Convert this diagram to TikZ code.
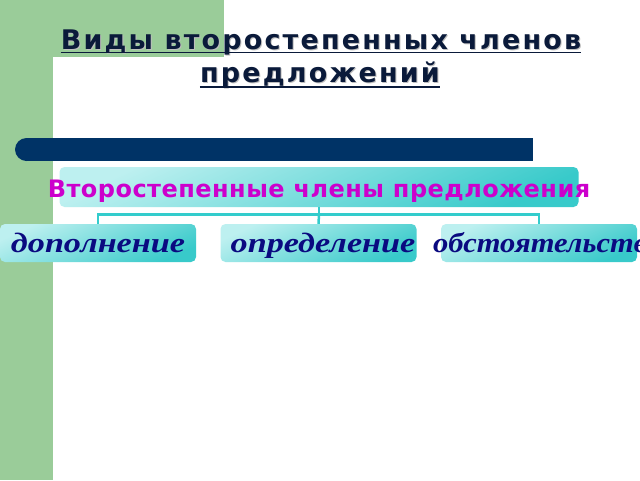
\documentclass[tikz,border=0pt]{standalone}
\usepackage{fontspec}
\setmainfont{Liberation Serif}
\newfontfamily\titlefont[LetterSpace=8]{DejaVu Sans}
\newfontfamily\subfont[LetterSpace=2]{DejaVu Sans}
\definecolor{greenbg}{HTML}{9ACC99}
\definecolor{barblue}{HTML}{003366}
\definecolor{titlenavy}{HTML}{0A1A3A}
\definecolor{boxlight}{HTML}{BDF0F0}
\definecolor{boxdark}{HTML}{38CACA}
\definecolor{connc}{HTML}{33CCCC}
\definecolor{magtext}{HTML}{CC00CC}
\definecolor{childtext}{HTML}{0A0A80}
\tikzset{
  titletext/.style={inner sep=0pt, anchor=base, font=\titlefont\bfseries\fontsize{27}{30}\selectfont, text=titlenavy},
  titleshadow/.style={inner sep=0pt, anchor=base, font=\titlefont\bfseries\fontsize{27}{30}\selectfont, text=black!25},
  gradbox/.style={rounded corners=5pt, top color=boxlight, bottom color=boxdark, shading angle=25, draw=none, inner sep=0pt},
  childbox/.style={gradbox, minimum width=196pt, minimum height=38pt},
  childlabel/.style={inner sep=0pt, anchor=base, font=\bfseries\itshape\fontsize{28}{32}\selectfont, text=childtext},
  conn/.style={draw=connc, line width=2.5pt}
}
\begin{document}
\begin{tikzpicture}[x=1pt,y=-1pt]
\useasboundingbox (0,0) rectangle (640,480);
% background
\fill[white] (0,0) rectangle (640,480);
\fill[greenbg] (0,0) rectangle (224,57);
\fill[greenbg] (0,0) rectangle (53,480);
\fill[white] (53,480) -- (53,74) arc[start angle=180, end angle=90, radius=17pt] -- (224,57) -- (224,480) -- cycle;
% title
\node[titleshadow] (t1s) at (322,50.5) {Виды второстепенных членов};
\node[titleshadow] (t2s) at (321,83) {предложений};
\node[titletext] (t1) at (321,49.5) {Виды второстепенных членов};
\node[titletext] (t2) at (320,82) {предложений};
\draw[titlenavy, line width=1.8pt] ([yshift=-3pt]t1.base west) -- ([yshift=-3pt]t1.base east);
\draw[titlenavy, line width=1.8pt] ([yshift=-5pt]t2.base west) -- ([yshift=-5pt]t2.base east);
% bar
\fill[barblue] (26.5,138) rectangle (533,161);
\fill[barblue] (26.5,149.5) circle (11.5pt);
% top box
\node[gradbox, minimum width=519pt, minimum height=40pt] (topbox) at (319,187) {};
\node[inner sep=0pt, anchor=base, font=\subfont\bfseries\fontsize{24}{28}\selectfont, text=magtext] (toplabel) at (319,197.5) {Второстепенные члены предложения};
% children
\node[childbox] (c1box) at (98,243) {};
\node[childbox] (c2box) at (318.5,243) {};
\node[childbox] (c3box) at (539,243) {};
\node[childlabel] (c1) at (98,252.5) {\scalebox{1.22}[1]{дополнение}};
\node[childlabel] (c2) at (323,252.5) {\scalebox{1.22}[1]{определение}};
\node[childlabel, anchor=base west] (c3) at (433,252.5) {\scalebox{1.09}[1]{обстоятельство}};
% connectors
\coordinate (j) at (319,214.5);
\draw[conn] (topbox.south) -- (j);
\draw[conn] (j) -| (c1box.north);
\draw[conn] (j) -| (c3box.north);
\draw[conn] (j) -- (c2box.north);
\end{tikzpicture}
\end{document}
